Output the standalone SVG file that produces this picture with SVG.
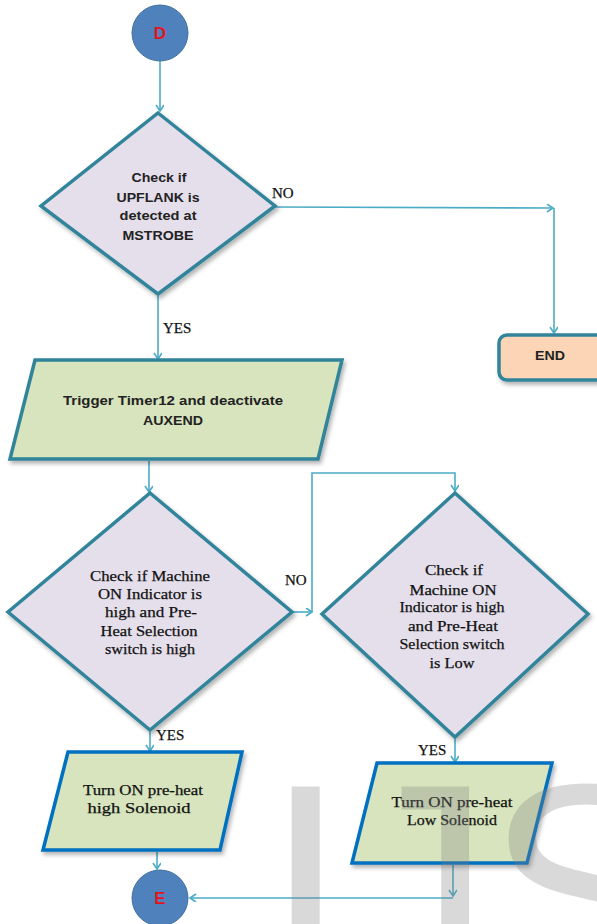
<svg xmlns="http://www.w3.org/2000/svg" width="597" height="924" viewBox="0 0 597 924">
  <style>
    .decision { fill: #e5dfec; stroke: #31849b; stroke-width: 3.5; stroke-linejoin: miter; }
    .io-teal { fill: #d7e4bd; stroke: #31849b; stroke-width: 3.5; }
    .io-blue { fill: #d7e4bd; stroke: #0070c0; stroke-width: 3.5; }
    .terminal { fill: #fbd5b5; stroke: #31849b; stroke-width: 3.5; }
    .connector-node { fill: #4f81bd; stroke: #41719c; stroke-width: 1; }
    .conn { fill: none; stroke: #4bacc6; stroke-width: 1.6; }
    .sans { font-family: "Liberation Sans", Arial, sans-serif; font-size: 12px; font-weight: bold; fill: #222; text-anchor: middle; }
    .serif { font-family: "Liberation Serif", "Times New Roman", serif; font-size: 15px; fill: #111; stroke: #111; stroke-width: 0.25; text-anchor: middle; }
    .label { font-family: "Liberation Serif", "Times New Roman", serif; font-size: 15px; fill: #111; stroke: #111; stroke-width: 0.25; }
    .letter { font-family: "Liberation Sans", Arial, sans-serif; font-size: 17px; font-weight: bold; fill: #e3141b; text-anchor: middle; }
    .mark { font-family: "Liberation Sans", Arial, sans-serif; font-size: 300px; letter-spacing: -6px; fill: #808080; fill-opacity: 0.3; }
  </style>
  <defs>
    <marker id="arrow" markerWidth="10" markerHeight="10" refX="7" refY="4" orient="auto" markerUnits="userSpaceOnUse">
      <path d="M1,0 L7,4 L1,8" fill="none" stroke="#4bacc6" stroke-width="1.6"/>
    </marker>
    <filter id="shadow" x="-10%" y="-10%" width="130%" height="130%">
      <feDropShadow dx="2" dy="3" stdDeviation="2" flood-color="#000" flood-opacity="0.3"/>
    </filter>
  </defs>

  <rect width="597" height="924" fill="#ffffff"/>

  <!-- connectors -->
  <g id="connectors">
    <path class="conn" d="M160,61 L160,111" marker-end="url(#arrow)"/>
    <path class="conn" d="M275,207 L553,208" marker-end="url(#arrow)"/>
    <path class="conn" d="M554,208 L554,333" marker-end="url(#arrow)"/>
    <path class="conn" d="M158,296 L158,359" marker-end="url(#arrow)"/>
    <path class="conn" d="M149,461 L149,492" marker-end="url(#arrow)"/>
    <path class="conn" d="M293,612 L312,612" marker-end="url(#arrow)"/>
    <path class="conn" d="M312,612 L312,473 L455,473 L455,491" marker-end="url(#arrow)"/>
    <path class="conn" d="M150,732 L150,751" marker-end="url(#arrow)"/>
    <path class="conn" d="M455,739 L455,762" marker-end="url(#arrow)"/>
    <path class="conn" d="M157,852 L157,869" marker-end="url(#arrow)"/>
    <path class="conn" d="M453,865 L453,896" marker-end="url(#arrow)"/>
    <path class="conn" d="M453,898 L190,898" marker-end="url(#arrow)"/>
  </g>

  <!-- branch labels -->
  <g id="labels">
    <text class="label" x="272" y="198">NO</text>
    <text class="label" x="163" y="333">YES</text>
    <text class="label" x="285" y="585">NO</text>
    <text class="label" x="156" y="740">YES</text>
    <text class="label" x="418" y="755">YES</text>
  </g>

  <g id="start-D">
    <circle class="connector-node" cx="160" cy="33" r="28"/>
    <text class="letter" x="160" y="39">D</text>
  </g>

  <g id="check-upflank">
    <polygon class="decision" filter="url(#shadow)" points="158,113 275,206 158,294 41,206"/>
    <text class="sans" x="159" y="182" textLength="55" lengthAdjust="spacingAndGlyphs">Check if</text>
    <text class="sans" x="158" y="202" textLength="83" lengthAdjust="spacingAndGlyphs">UPFLANK is</text>
    <text class="sans" x="158" y="220" textLength="77" lengthAdjust="spacingAndGlyphs">detected at</text>
    <text class="sans" x="158" y="240" textLength="71" lengthAdjust="spacingAndGlyphs">MSTROBE</text>
  </g>

  <g id="end">
    <rect class="terminal" filter="url(#shadow)" x="499" y="335" width="110" height="45" rx="8"/>
    <text class="sans" x="550" y="360" font-size="11" textLength="30" lengthAdjust="spacingAndGlyphs">END</text>
  </g>

  <g id="trigger-timer">
    <polygon class="io-teal" filter="url(#shadow)" points="35,360 342,360 318,459 10,459"/>
    <text class="sans" x="173" y="405" textLength="220" lengthAdjust="spacingAndGlyphs">Trigger Timer12 and deactivate</text>
    <text class="sans" x="173" y="425" textLength="60" lengthAdjust="spacingAndGlyphs">AUXEND</text>
  </g>

  <g id="check-high">
    <polygon class="decision" filter="url(#shadow)" points="150,493 292,612 150,730 8,612"/>
    <text class="serif" x="150" y="581" textLength="120" lengthAdjust="spacingAndGlyphs">Check if Machine</text>
    <text class="serif" x="150" y="599" textLength="104" lengthAdjust="spacingAndGlyphs">ON Indicator is</text>
    <text class="serif" x="151" y="617" textLength="92" lengthAdjust="spacingAndGlyphs">high and Pre-</text>
    <text class="serif" x="149" y="636" textLength="97" lengthAdjust="spacingAndGlyphs">Heat Selection</text>
    <text class="serif" x="150" y="654" textLength="90" lengthAdjust="spacingAndGlyphs">switch is high</text>
  </g>

  <g id="check-low">
    <polygon class="decision" filter="url(#shadow)" points="455,493 588,614 455,737 322,614"/>
    <text class="serif" x="454" y="575" textLength="58" lengthAdjust="spacingAndGlyphs">Check if</text>
    <text class="serif" x="453" y="595" textLength="87" lengthAdjust="spacingAndGlyphs">Machine ON</text>
    <text class="serif" x="452" y="612" textLength="105" lengthAdjust="spacingAndGlyphs">Indicator is high</text>
    <text class="serif" x="453" y="631" textLength="90" lengthAdjust="spacingAndGlyphs">and Pre-Heat</text>
    <text class="serif" x="452" y="649" textLength="105" lengthAdjust="spacingAndGlyphs">Selection switch</text>
    <text class="serif" x="452" y="668" textLength="45" lengthAdjust="spacingAndGlyphs">is Low</text>
  </g>

  <g id="preheat-high">
    <polygon class="io-blue" filter="url(#shadow)" points="68,752 242,752 220,850 43,850"/>
    <text class="serif" x="143" y="795" textLength="120" lengthAdjust="spacingAndGlyphs">Turn ON pre-heat</text>
    <text class="serif" x="139" y="813" textLength="103" lengthAdjust="spacingAndGlyphs">high Solenoid</text>
  </g>

  <g id="preheat-low">
    <polygon class="io-blue" filter="url(#shadow)" points="377,763 552,763 527,863 352,863"/>
    <text class="serif" x="452" y="807" textLength="121" lengthAdjust="spacingAndGlyphs">Turn ON pre-heat</text>
    <text class="serif" x="452" y="825" textLength="90" lengthAdjust="spacingAndGlyphs">Low Solenoid</text>
  </g>

  <g id="end-E">
    <circle class="connector-node" cx="160" cy="898" r="28"/>
    <text class="letter" x="160" y="904">E</text>
  </g>

  <!-- faint publisher watermark over the lower right -->
  <text class="mark" x="264" y="993">IJS</text>
</svg>
